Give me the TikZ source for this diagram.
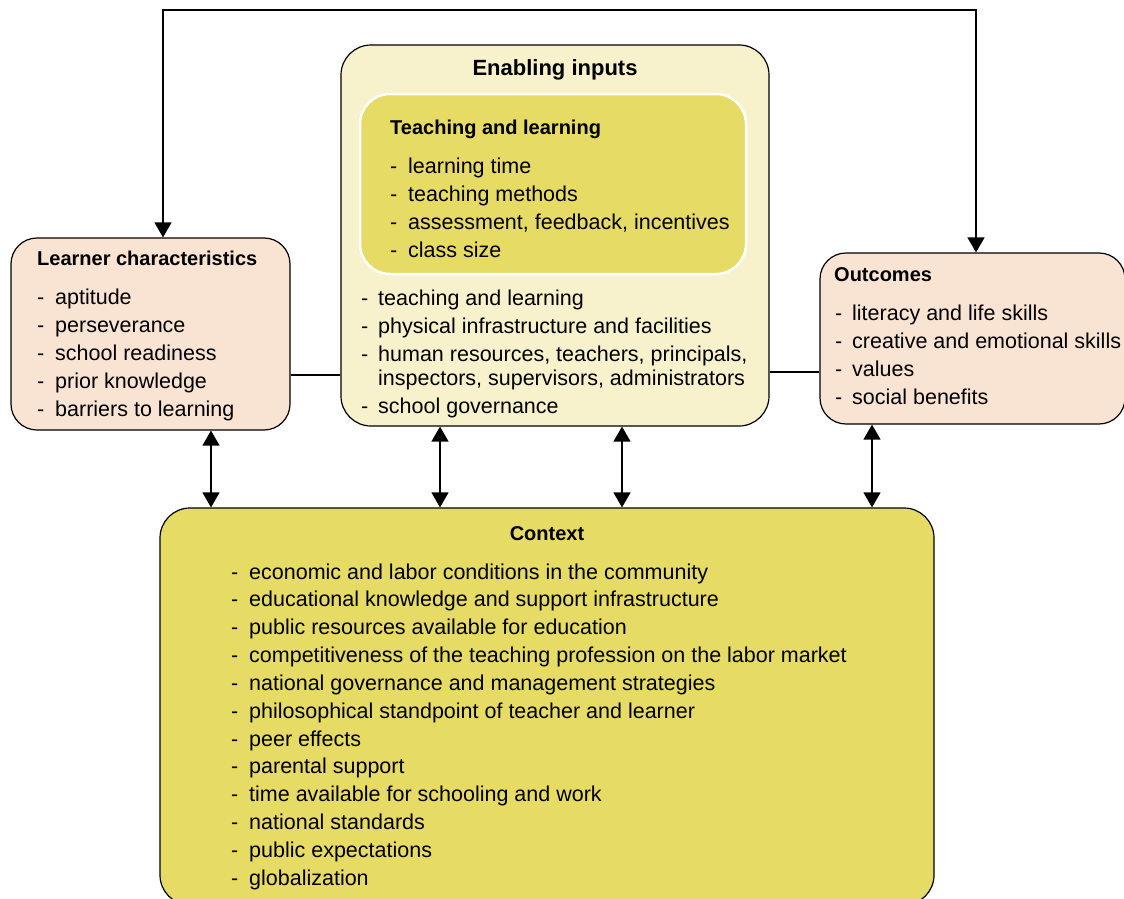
\documentclass[tikz,border=0pt]{standalone}
\usepackage{fontspec}
\setmainfont{Liberation Sans}
\usetikzlibrary{arrows.meta}
\definecolor{peach}{RGB}{249,227,211}
\definecolor{lightyel}{RGB}{247,241,204}
\definecolor{yel}{RGB}{230,219,101}
\newcommand\dashitem[1]{\makebox[18pt][l]{-}#1}
\newcommand\bodyfont{\fontsize{21.5}{28}\selectfont}
\begin{document}
\begin{tikzpicture}[x=1pt,y=-1pt,
  box/.style={draw=black,line width=1.2pt,rounded corners=26pt,inner sep=0pt},
  txt/.style={inner sep=0pt,anchor=base west,font=\bodyfont},
  ttl/.style={inner sep=0pt,anchor=base west,font=\fontsize{20}{24}\selectfont\bfseries},
  conn/.style={line width=1.4pt},
  dbl/.style={conn,{Triangle[width=17pt,length=15pt]}-{Triangle[width=17pt,length=15pt]}}]
\useasboundingbox (0,0) rectangle (1124,899);
\clip (0,0) rectangle (1124,899);
\fill[white] (0,0) rectangle (1124,899);

% boxes
\node[box,fill=peach,minimum width=279pt,minimum height=192pt] (learner) at (150.5,334) {};
\node[box,fill=lightyel,minimum width=428pt,minimum height=381pt,rounded corners=30pt] (enabling) at (555,235.5) {};
\node[box,draw=white,line width=2.5pt,fill=yel,minimum width=386pt,minimum height=180pt,rounded corners=30pt] (teach) at (553,184) {};
\node[box,fill=peach,minimum width=305pt,minimum height=171pt] (outcomes) at (972.5,338.5) {};
\node[box,fill=yel,minimum width=774pt,minimum height=397pt,rounded corners=30pt] (context) at (547,706.5) {};

% texts
\node[ttl] (learnerT) at (37,265) {Learner characteristics};
\node[txt] (learnerL) at (37,304) {\bodyfont\begin{tabular}[t]{@{}l@{}}
\dashitem{aptitude}\\
\dashitem{perseverance}\\
\dashitem{school readiness}\\
\dashitem{prior knowledge}\\
\dashitem{barriers to learning}
\end{tabular}};

\node[inner sep=0pt,anchor=base,font=\fontsize{22}{26}\selectfont\bfseries] (enablingT) at (555,76) {Enabling inputs};
\node[ttl] (teachT) at (390,134) {Teaching and learning};
\node[txt] (teachL) at (390,173) {\bodyfont\begin{tabular}[t]{@{}l@{}}
\dashitem{learning time}\\
\dashitem{teaching methods}\\
\dashitem{assessment, feedback, incentives}\\
\dashitem{class size}
\end{tabular}};
\node[txt] (enablingL) at (361,305) {\bodyfont\begin{tabular}[t]{@{}l@{}}
\makebox[17pt][l]{-}teaching and learning\\
\makebox[17pt][l]{-}physical infrastructure and facilities\\
\makebox[17pt][l]{-}human resources, teachers, principals,\\[-4pt]
\makebox[17pt][l]{}inspectors, supervisors, administrators\\
\makebox[17pt][l]{-}school governance
\end{tabular}};

\node[ttl] (outcomesT) at (834,281) {Outcomes};
\node[txt] (outcomesL) at (835,320) {\bodyfont\begin{tabular}[t]{@{}l@{}}
\makebox[17pt][l]{-}literacy and life skills\\
\makebox[17pt][l]{-}creative and emotional skills\\
\makebox[17pt][l]{-}values\\
\makebox[17pt][l]{-}social benefits
\end{tabular}};

\node[inner sep=0pt,anchor=base,font=\fontsize{20}{24}\selectfont\bfseries] (contextT) at (547,540) {Context};
\node[txt] (contextL) at (231,579) {\fontsize{21.5}{27.85}\selectfont\begin{tabular}[t]{@{}l@{}}
\dashitem{economic and labor conditions in the community}\\
\dashitem{educational knowledge and support infrastructure}\\
\dashitem{public resources available for education}\\
\dashitem{competitiveness of the teaching profession on the labor market}\\
\dashitem{national governance and management strategies}\\
\dashitem{philosophical standpoint of teacher and learner}\\
\dashitem{peer effects}\\
\dashitem{parental support}\\
\dashitem{time available for schooling and work}\\
\dashitem{national standards}\\
\dashitem{public expectations}\\
\dashitem{globalization}
\end{tabular}};

% connectors
\coordinate (tl) at (163,10);
\coordinate (tr) at (976,10);
\draw[dbl] (tl |- learner.north) -- (tl) -- (tr) -- (tr |- outcomes.north);

\coordinate (h1) at (0,375);
\coordinate (h2) at (0,372);
\draw[conn] (learner.east |- h1) -- (enabling.west |- h1);
\draw[conn] (enabling.east |- h2) -- (outcomes.west |- h2);

\coordinate (v1) at (211,0);
\coordinate (v2) at (440,0);
\coordinate (v3) at (622,0);
\coordinate (v4) at (872,0);
\draw[dbl] (v1 |- learner.south) -- (v1 |- context.north);
\draw[dbl] (v2 |- enabling.south) -- (v2 |- context.north);
\draw[dbl] (v3 |- enabling.south) -- (v3 |- context.north);
\draw[dbl] (v4 |- outcomes.south) -- (v4 |- context.north);
\end{tikzpicture}
\end{document}
